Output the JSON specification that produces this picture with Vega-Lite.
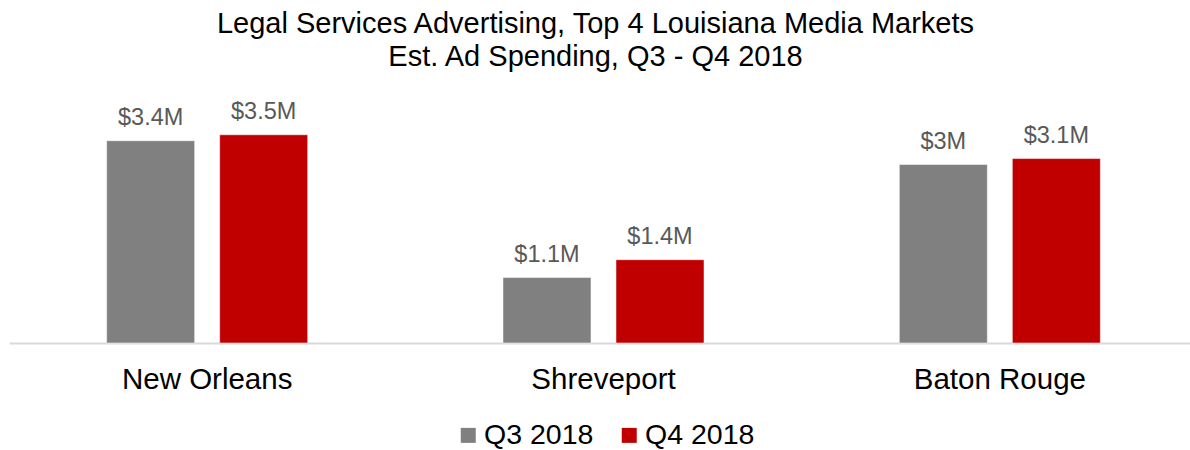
{
  "$schema": "https://vega.github.io/schema/vega-lite/v6.json",
  "autosize": {"type": "none"},
  "width": 1189,
  "height": 238,
  "padding": {"left": 9, "top": 105, "right": 0, "bottom": 107},
  "background": "white",
  "config": {
    "view": {"stroke": null},
    "font": "Liberation Sans"
  },
  "title": {
    "text": ["Legal Services Advertising, Top 4 Louisiana Media Markets", "Est. Ad Spending, Q3 - Q4 2018"],
    "fontSize": 29,
    "fontWeight": "normal",
    "color": "#000000",
    "font": "Liberation Sans",
    "lineHeight": 33,
    "anchor": "middle",
    "dx": -8,
    "offset": 28
  },
  "data": {
    "values": [
      {"market": "New Orleans", "quarter": "Q3 2018", "spend": 3400000},
      {"market": "New Orleans", "quarter": "Q4 2018", "spend": 3500000},
      {"market": "Shreveport", "quarter": "Q3 2018", "spend": 1100000},
      {"market": "Shreveport", "quarter": "Q4 2018", "spend": 1400000},
      {"market": "Baton Rouge", "quarter": "Q3 2018", "spend": 3000000},
      {"market": "Baton Rouge", "quarter": "Q4 2018", "spend": 3100000}
    ]
  },
  "encoding": {
    "x": {
      "field": "market",
      "type": "nominal",
      "sort": ["New Orleans", "Shreveport", "Baton Rouge"],
      "scale": {"paddingInner": 0, "paddingOuter": 0},
      "axis": {
        "title": null,
        "labelAngle": 0,
        "labelFontSize": 29.5,
        "labelColor": "#000000",
        "labelFont": "Liberation Sans",
        "labelPadding": 22,
        "ticks": false,
        "domainColor": "#d9d9d9",
        "domainWidth": 2
      }
    },
    "xOffset": {
      "field": "quarter",
      "type": "nominal",
      "scale": {"paddingInner": 0.2212, "paddingOuter": 0.864}
    },
    "y": {
      "field": "spend",
      "type": "quantitative",
      "scale": {"domain": [0, 4000000]},
      "axis": null
    }
  },
  "layer": [
    {
      "mark": {"type": "bar", "stroke": "#ffffff", "strokeOpacity": 0.5, "strokeWidth": 1},
      "encoding": {
        "color": {
          "field": "quarter",
          "type": "nominal",
          "scale": {"domain": ["Q3 2018", "Q4 2018"], "range": ["#808080", "#c00000"]},
          "legend": {
            "title": null,
            "orient": "none",
            "direction": "horizontal",
            "legendX": 445,
            "legendY": 316,
            "symbolType": "square",
            "symbolSize": 225,
            "symbolStrokeWidth": 0,
            "labelFontSize": 28.5,
            "labelColor": "#000000",
            "labelFont": "Liberation Sans",
            "labelOffset": 1.5,
            "columnPadding": 21
          }
        }
      }
    },
    {
      "mark": {"type": "text", "fontSize": 23.5, "color": "#595959", "baseline": "alphabetic", "dy": -16, "font": "Liberation Sans"},
      "encoding": {
        "text": {"field": "spend", "type": "quantitative", "format": "$.2~s"}
      }
    }
  ]
}
